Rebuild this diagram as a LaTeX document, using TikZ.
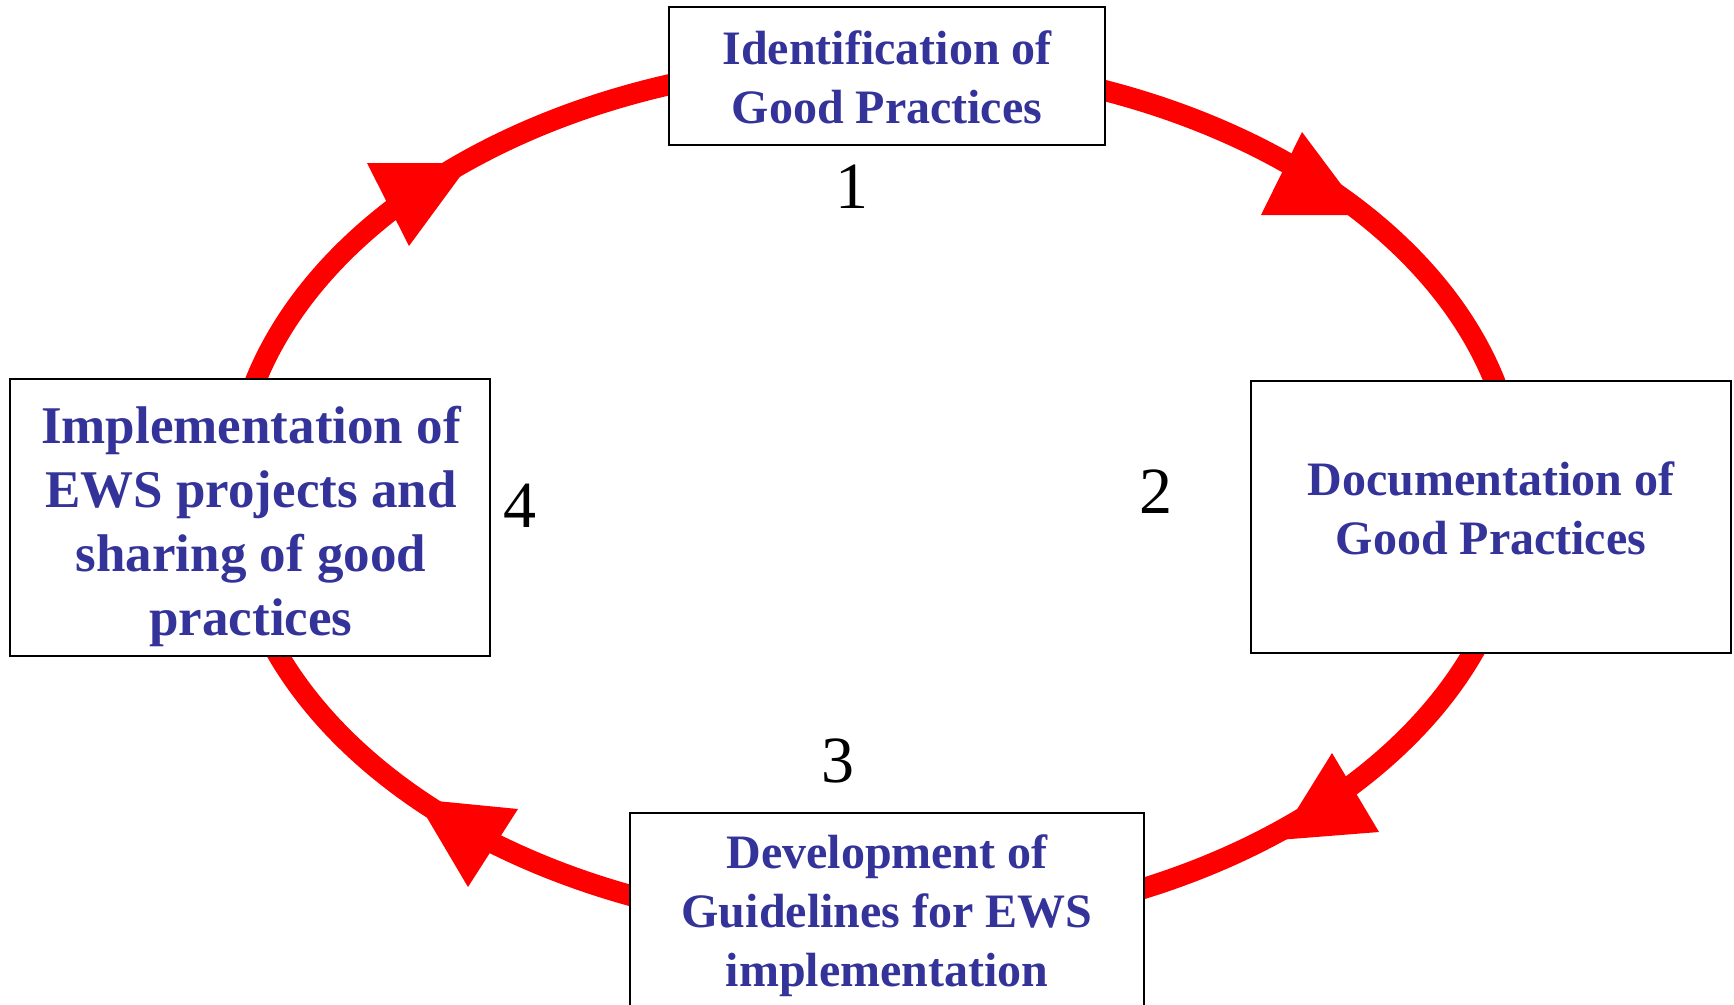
\documentclass[tikz,border=0pt]{standalone}
\usepackage{fontspec}
\setmainfont{Liberation Serif}
\definecolor{txtblue}{RGB}{51,51,153}
\begin{document}
\begin{tikzpicture}[x=1pt,y=-1pt,
  box/.style={draw=black, line width=1.5pt, fill=white, inner sep=0pt},
  lbl/.style={text=txtblue, font=\bfseries\fontsize{48}{59}\selectfont, align=center, inner sep=0pt},
  lblbig/.style={lbl, font=\bfseries\fontsize{53}{64}\selectfont},
  num/.style={font=\fontsize{66}{70}\selectfont, inner sep=0pt},
  ring/.style={draw=red, line width=21pt},
  head/.style={fill=red}]
\useasboundingbox (0,0) rectangle (1734,1004);
\clip (0,0) rectangle (1734,1004);
% cycle ring
\draw[ring] (875,495) ellipse [x radius=642, y radius=433];
% arrow heads (clockwise)
\fill[head] (1302,132) -- (1261,215) -- (1364,215) -- cycle;
\fill[head] (1332,753) -- (1379,832) -- (1278,840) -- cycle;
\fill[head] (518,809) -- (468,887) -- (416,799) -- cycle;
\fill[head] (367,163) -- (409,246) -- (470,163) -- cycle;
% boxes
\node[box, minimum width=436pt, minimum height=138pt] (b1) at (887,76) {};
\node[box, minimum width=480pt, minimum height=272pt] (b2) at (1491,517) {};
\node[box, minimum width=514pt, minimum height=206pt] (b3) at (887,916) {};
\node[box, minimum width=480pt, minimum height=277pt] (b4) at (250,517.5) {};
% texts
\node[lbl] (t1) at (887,77) {Identification of\\Good Practices};
\node[lbl] (t2) at (1491,508) {Documentation of\\Good Practices};
\node[lbl] (t3) at (887,916) {Development of\\Guidelines for EWS\\implementation};
\node[lblbig] (t4) at (251,526) {Implementation of\\EWS projects and\\sharing of good\\practices};
% step numbers
\node[num] (n1) at (852,187) {1};
\node[num] (n2) at (1156,492) {2};
\node[num] (n3) at (838,761) {3};
\node[num] (n4) at (520,506) {4};
\end{tikzpicture}
\end{document}
